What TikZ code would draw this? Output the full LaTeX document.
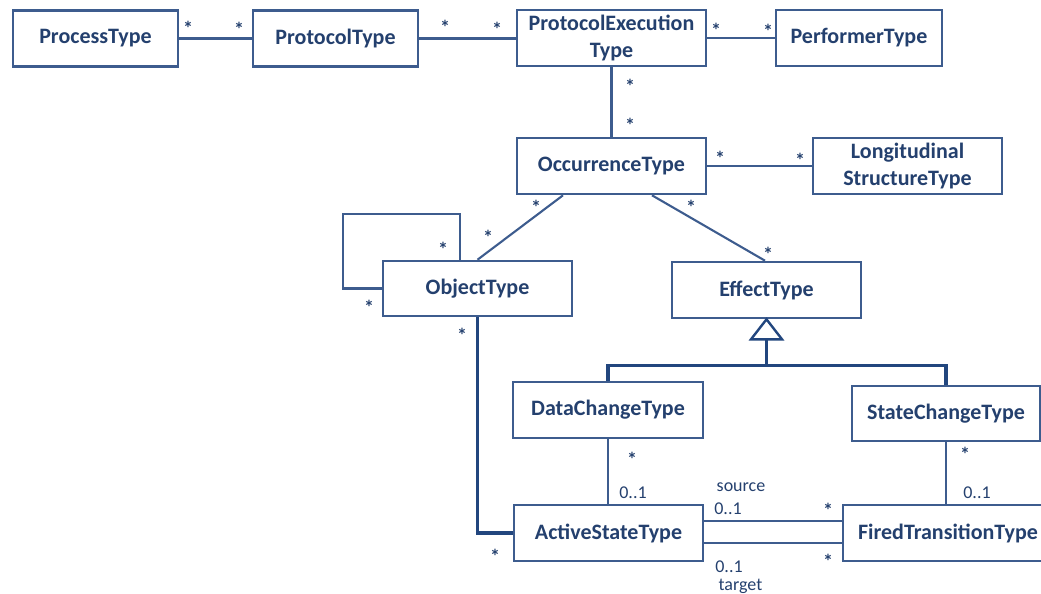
\documentclass[tikz,border=0pt]{standalone}
\usepackage{fontspec}
\setmainfont{Carlito}
\usetikzlibrary{calc}
\definecolor{umltext}{HTML}{24406E}
\definecolor{umlline}{HTML}{3D5C8E}
\definecolor{umlbold}{HTML}{22467E}
\begin{document}
\begin{tikzpicture}[x=1pt,y=-1pt,
  cls/.style={draw=umlline, line width=2.6pt, fill=white, text=umltext,
    font=\fontsize{22}{27}\selectfont\bfseries, inner sep=0pt,
    minimum height=56pt, align=center},
  assoc/.style={draw=umlline, line width=2.1pt},
  strong/.style={draw=umlbold, line width=3.4pt},
  mult/.style={text=umltext, font=\fontsize{18}{20}\selectfont, inner sep=0pt},
  star/.style={mult, font=\fontsize{20}{22}\selectfont\bfseries, yshift=-3pt},
]
\useasboundingbox (0,0) rectangle (1041,594);

% classes
\node[cls, minimum width=165pt] (proc) at (95.5,38.5) {ProcessType};
\node[cls, minimum width=165pt] (prot) at (335.5,38.5) {ProtocolType};
\node[cls, minimum width=189pt] (exec) at (611.5,38) {ProtocolExecution\\Type};
\node[cls, minimum width=166pt] (perf) at (859,38) {PerformerType};
\node[cls, minimum width=189pt] (occ) at (611.5,166) {OccurrenceType};
\node[cls, minimum width=189pt] (long) at (907.5,166) {Longitudinal\\StructureType};
\node[cls, minimum width=189pt, minimum height=55pt] (obj) at (477.5,288.5) {ObjectType};
\node[cls, minimum width=189pt] (eff) at (766.5,290) {EffectType};
\node[cls, minimum width=190pt] (dc) at (608,410) {DataChangeType};
\node[cls, minimum width=188pt, minimum height=55pt] (sc) at (946,413.5) {StateChangeType};
\node[cls, minimum width=189pt] (act) at (608.5,533) {ActiveStateType};
\node[cls, minimum width=210pt] (fired) at (948,533) {FiredTransitionType};

% associations
\draw[assoc] (proc) -- (prot);
\draw[assoc] (prot) -- (exec.west |- prot);
\draw[assoc] (exec.east) -- (perf.west |- exec.east);
\draw[assoc] (exec) -- (occ);
\draw[assoc] (occ) -- (long);
\draw[assoc] ($(occ.south)+(-48.5,0)$) -- (obj.north);
\draw[assoc] ($(occ.south)+(40.5,0)$) -- ($(eff.north)+(-1.5,0)$);
\coordinate (loop) at (343,214);
\draw[assoc] (obj.west) -| (loop) -| ($(obj.north)+(-17.5,0)$);
\draw[assoc] (dc.south) -- (dc.south |- act.north);
\draw[assoc] (sc.south) -- (sc.south |- fired.north);
\coordinate (srcend) at ($(act.east)+(0,-12)$);
\coordinate (tgtend) at ($(act.east)+(0,10)$);
\draw[assoc] (srcend) -- (srcend -| fired.west);
\draw[assoc] (tgtend) -- (tgtend -| fired.west);
\draw[strong] (obj.south) |- (act.west);

% generalization
\coordinate (tribase) at ($(eff.south)+(0,20)$);
\coordinate (bar) at ($(eff.south)+(0,46)$);
\draw[draw=umlbold, line width=2.4pt, fill=white, line join=miter]
  (eff.south) -- ($(tribase)+(-15.5,0)$) -- ($(tribase)+(15.5,0)$) -- cycle;
\draw[strong] (tribase) -- (bar);
\draw[strong] (dc.north) -- (dc.north |- bar) -- (sc.north |- bar) -- (sc.north);

% multiplicities and roles
\node[star] (m1) at (188,25) {*};
\node[star] (m2) at (239,26) {*};
\node[star] (m3) at (445,24) {*};
\node[star] (m4) at (497,26) {*};
\node[star] (m5) at (716,27) {*};
\node[star] (m6) at (768,28) {*};
\node[star] (m7) at (630,83) {*};
\node[star] (m8) at (630,122) {*};
\node[star] (m9) at (720,155) {*};
\node[star] (m10) at (800,157) {*};
\node[star] (m11) at (536,204) {*};
\node[star] (m12) at (691,204) {*};
\node[star] (m13) at (488,234) {*};
\node[star] (m14) at (768,251) {*};
\node[star] (m15) at (443,246) {*};
\node[star] (m16) at (369,304) {*};
\node[star] (m17) at (462,332) {*};
\node[star] (m18) at (632,456) {*};
\node[star] (m19) at (495,553) {*};
\node[star] (m20) at (828,507) {*};
\node[star] (m21) at (828,558) {*};
\node[star] (m22) at (965,451) {*};
\node[mult] (r1) at (633,493) {0..1};
\node[mult] (r2) at (977,493) {0..1};
\node[mult] (r3) at (728,509) {0..1};
\node[mult] (r4) at (729,567) {0..1};
\node[mult] (src) at (741,487) {source};
\node[mult] (tgt) at (740.5,586) {target};
\end{tikzpicture}
\end{document}
